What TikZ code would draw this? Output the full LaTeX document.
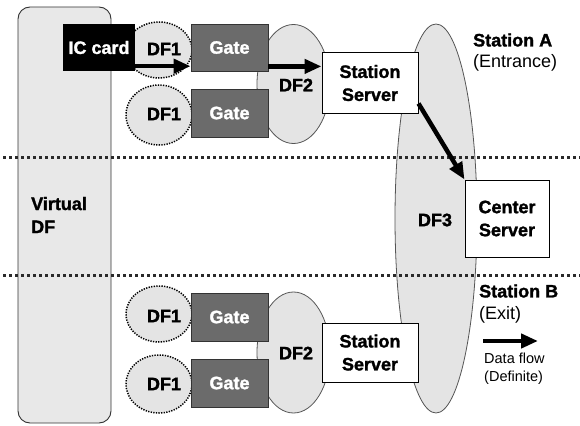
\documentclass[tikz,border=0pt]{standalone}
\usepackage{fontspec}
\setmainfont[BoldFeatures={FakeBold=1.5}]{Liberation Sans}
\usetikzlibrary{shapes.geometric,arrows.meta}
\definecolor{ellfill}{HTML}{E4E4E4}
\definecolor{ellline}{HTML}{555555}
\definecolor{gatefill}{HTML}{6B6B6B}
\definecolor{gateline}{HTML}{333333}
\definecolor{sepcol}{HTML}{2A2A2A}
\definecolor{vfill}{HTML}{E8E8E8}
\tikzset{
  bigtxt/.style={font=\fontsize{18}{23}\selectfont\bfseries},
  regtxt/.style={font=\fontsize{18}{23}\selectfont},
  smalltxt/.style={font=\fontsize{14.5}{18}\selectfont},
  ellgray/.style={ellipse, fill=ellfill, draw=ellline, line width=0.8pt, inner sep=0pt},
  df1ell/.style={ellipse, fill=ellfill, draw=black, line width=1.5pt, dash pattern=on 1.3pt off 1.3pt, inner sep=0pt},
  gatebox/.style={rectangle, fill=gatefill, draw=gateline, line width=0.8pt, minimum width=77pt, minimum height=48pt, text=white, bigtxt, inner sep=0pt},
  srvbox/.style={rectangle, fill=white, draw=black, line width=1pt, align=center, bigtxt, inner sep=0pt},
  flow/.style={-{Triangle[length=17pt,width=14pt]}, line width=4.5pt},
  sepline/.style={draw=sepcol, line width=3pt, dash pattern=on 3pt off 3pt},
  lbl/.style={bigtxt, inner sep=0pt},
}
\begin{document}
\begin{tikzpicture}[x=1pt,y=-1pt]
\useasboundingbox (0,0) rectangle (580,425);
% Virtual DF
\draw[fill=vfill, draw=gateline, line width=0.9pt, rounded corners=12pt] (18,7) rectangle (111,423);
\node[lbl, align=left, anchor=west] (vdf) at (31,215) {Virtual\\DF};
% DF3
\node[ellgray, minimum width=82pt, minimum height=389pt] (df3) at (436,218.5) {};
% DF2 ellipses
\node[ellgray, minimum width=73pt, minimum height=119pt] (df2a) at (293.5,84) {};
\node[ellgray, minimum width=73pt, minimum height=121pt] (df2b) at (293.5,352.5) {};
% DF1 ellipses
\node[df1ell, minimum width=66pt, minimum height=56pt] (df1a) at (159,50) {};
\node[df1ell, minimum width=66pt, minimum height=60pt] (df1b) at (159,115) {};
\node[df1ell, minimum width=66pt, minimum height=56pt] (df1c) at (159,314) {};
\node[df1ell, minimum width=66pt, minimum height=58pt] (df1d) at (159,384) {};
% Gates
\node[gatebox, minimum height=47pt] (g1) at (229.5,47.5) {Gate};
\node[gatebox] (g2) at (229.5,113) {Gate};
\node[gatebox] (g3) at (229.5,317) {Gate};
\node[gatebox] (g4) at (229.5,383) {Gate};
% IC card
\node[rectangle, fill=black, minimum width=72pt, minimum height=47pt, text=white, bigtxt, inner sep=0pt] (ic) at (99,47.5) {IC card};
% labels
\node[lbl] (l1a) at (164,49) {DF1};
\node[lbl] (l1b) at (164,114) {DF1};
\node[lbl] (l1c) at (164,316) {DF1};
\node[lbl] (l1d) at (164,384) {DF1};
\node[lbl] (l2a) at (296,85) {DF2};
\node[lbl] (l2b) at (296,353) {DF2};
\node[lbl] (l3) at (435,220) {DF3};
% servers
\node[srvbox, minimum width=96pt, minimum height=60pt] (srva) at (370,83) {Station\\Server};
\node[srvbox, minimum width=96pt, minimum height=59pt] (srvb) at (370,352.5) {Station\\Server};
\node[srvbox, minimum width=84pt, minimum height=77pt] (cs) at (507,218.5) {Center\\Server};
% separators
\coordinate (s1l) at (3,157);
\coordinate (s1r) at (580,157);
\coordinate (s2l) at (3,275);
\coordinate (s2r) at (580,275);
\draw[sepline] (s1l) -- (s1r);
\draw[sepline] (s2l) -- (s2r);
% station labels
\node[bigtxt, anchor=west, inner sep=0pt] (sta) at (473,40) {Station A};
\node[regtxt, anchor=west, inner sep=0pt] (stae) at (473,63) {(Entrance)};
\node[bigtxt, anchor=west, inner sep=0pt] (stb) at (479,291) {Station B};
\node[regtxt, anchor=west, inner sep=0pt] (stbe) at (479,315) {(Exit)};
% flows
\draw[flow] ([yshift=5pt]ic.south east) -- ([yshift=5pt]ic.south east -| g1.west);
\draw[flow] ([yshift=5pt]g1.south east) -- ([yshift=5pt]g1.south east -| srva.west);
\draw[flow] ([yshift=10pt]srva.south east) -- (cs.north west);
% legend
\coordinate (lga) at (483,341);
\coordinate (lgb) at (538,341);
\draw[flow] (lga) -- (lgb);
\node[smalltxt, anchor=west, align=left, inner sep=0pt] (lgt) at (484,369) {Data flow\\(Definite)};
\end{tikzpicture}
\end{document}
